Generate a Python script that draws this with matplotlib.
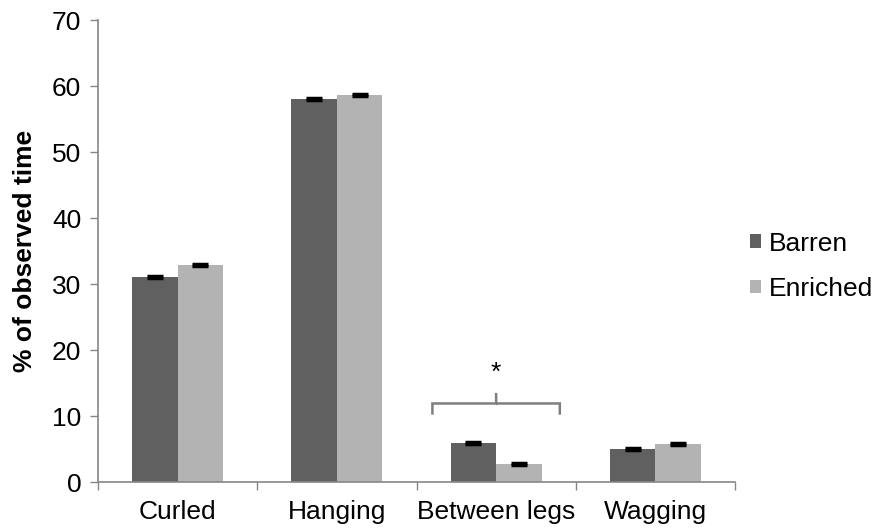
import matplotlib.pyplot as plt
import numpy as np
from matplotlib.path import Path
from matplotlib.patches import PathPatch

plt.rcParams['font.family'] = ['Liberation Sans', 'DejaVu Sans']

categories = ['Curled', 'Hanging', 'Between legs', 'Wagging']
barren = [31.1, 58.0, 5.9, 5.0]
enriched = [32.9, 58.6, 2.7, 5.7]
barren_err = [0.15, 0.15, 0.15, 0.15]
enriched_err = [0.15, 0.15, 0.15, 0.15]

grey = '#868686'
fs = 19

fig = plt.figure(figsize=(8.75, 5.28), dpi=100)
ax = fig.add_axes([0.112, 0.0871, 0.728, 0.875])

x = np.arange(len(categories))
w = 0.286
ax.bar(x - w / 2, barren, w, color='#606060', label='Barren')
ax.bar(x + w / 2, enriched, w, color='#b3b3b3', label='Enriched')
ax.errorbar(x - w / 2, barren, yerr=barren_err, fmt='none', ecolor='black',
            elinewidth=1, capsize=6, capthick=2.5)
ax.errorbar(x + w / 2, enriched, yerr=enriched_err, fmt='none', ecolor='black',
            elinewidth=1, capsize=6, capthick=2.5)

ax.set_xlim(-0.5, len(categories) - 0.5)
ax.set_ylim(0, 70)
ax.set_yticks(range(0, 71, 10))
ax.set_xticks(x)
ax.set_xticklabels(categories, fontsize=fs)
ax.set_xticks(np.arange(-0.5, len(categories), 1), minor=True)
ax.tick_params(axis='x', which='major', length=0, pad=13)
ax.tick_params(axis='x', which='minor', length=6, color=grey, width=1)
ax.tick_params(axis='y', labelsize=fs, length=6, color=grey, width=1, pad=6)

for side in ['top', 'right']:
    ax.spines[side].set_visible(False)
for side in ['left', 'bottom']:
    ax.spines[side].set_color(grey)
    ax.spines[side].set_linewidth(1.2)

ax.set_ylabel('% of observed time', fontsize=fs, fontweight='bold', labelpad=11)

# curly bracket over "Between legs"
cx, x0, x1 = 2, 1.6, 2.4
yb, ym, yt = 10.2, 11.9, 13.5
verts = [(x0, yb), (x0, ym), (x0, ym), (x0 + 0.02, ym),
         (cx - 0.02, ym), (cx, ym), (cx, ym), (cx, yt),
         (cx, ym), (cx, ym), (cx + 0.02, ym),
         (x1 - 0.02, ym), (x1, ym), (x1, ym), (x1, yb)]
codes = [Path.MOVETO, Path.CURVE3, Path.CURVE3, Path.LINETO,
         Path.LINETO, Path.CURVE3, Path.CURVE3, Path.LINETO,
         Path.MOVETO, Path.CURVE3, Path.CURVE3,
         Path.LINETO, Path.CURVE3, Path.CURVE3, Path.LINETO]
ax.add_patch(PathPatch(Path(verts, codes), fill=False, edgecolor='#7f7f7f',
                       linewidth=1.8, clip_on=False))
ax.text(cx, 16.5, '*', ha='center', va='center', fontsize=fs)

ax.legend(loc='center left', bbox_to_anchor=(1.0, 0.467), frameon=False,
          fontsize=fs, handlelength=0.42, handleheight=0.42,
          handletextpad=0.3, labelspacing=0.81, borderaxespad=0.15)

plt.savefig('out.png', dpi=100)
